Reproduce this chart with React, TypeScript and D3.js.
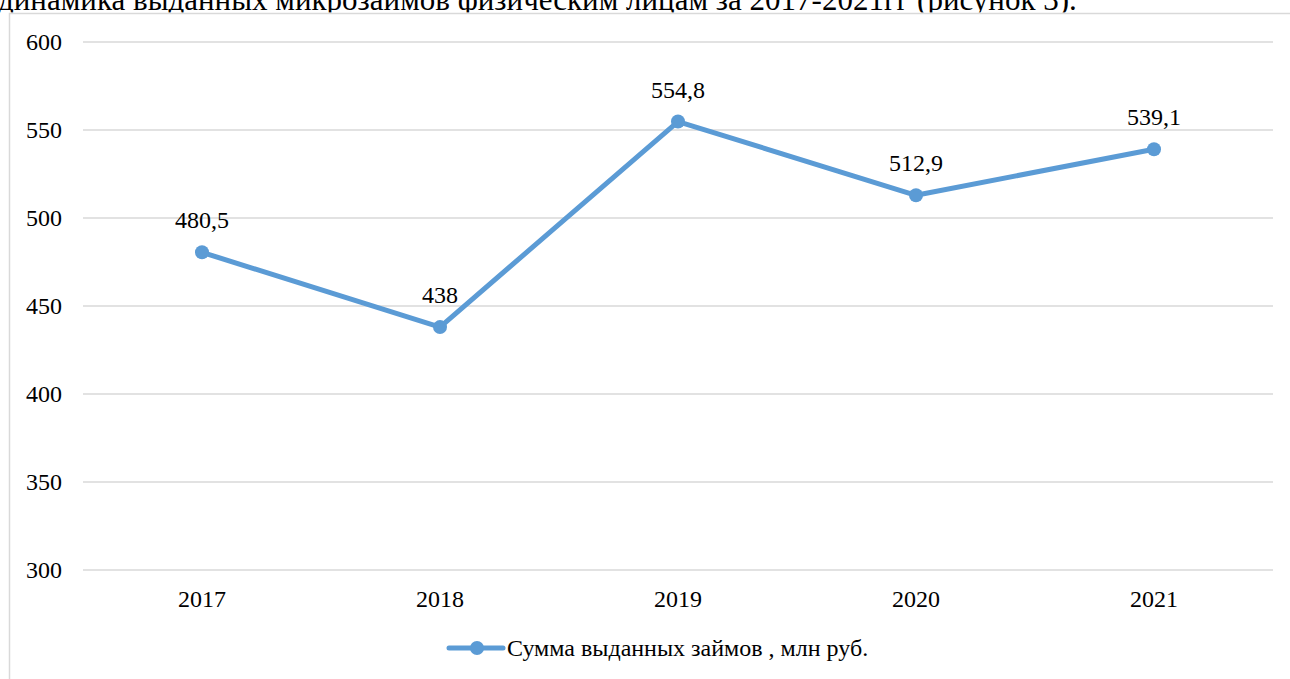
import React from "react";
import * as d3 from "d3";

const categories = ["2017", "2018", "2019", "2020", "2021"];
const values = [480.5, 438, 554.8, 512.9, 539.1];
const valueLabels = ["480,5", "438", "554,8", "512,9", "539,1"];
const yTicks = [300, 350, 400, 450, 500, 550, 600];
const seriesName = "Сумма выданных займов , млн руб.";
const headerText = "динамика выданных микрозаймов физическим лицам за 2017-2021гг (рисунок 3).";

export default function App() {
  const W = 1290, H = 679;
  const fs = 24;
  const x = d3.scaleBand().domain(categories).range([83, 1273]);
  const y = d3.scaleLinear().domain([300, 600]).range([570, 42]);
  const line = d3.line<number>()
    .x((_, i) => x(categories[i])! + x.bandwidth() / 2)
    .y((d) => y(d));
  const color = "#5B9BD5";
  return (
    <svg width={W} height={H} style={{ position: "absolute", left: 0, top: 0 }}>
      <text x={-2} y={10} fontSize={31}>{headerText}</text>
      <rect x={0} y={12.5} width={W} height={H} fill="#fff" />
      <path d={`M9.5,${H} V13.5 H${W}`} fill="none" stroke="#d9d9d9" strokeWidth={1.5} />
      {yTicks.map((t) => (
        <g key={t}>
          <line x1={83} x2={1273} y1={y(t)} y2={y(t)} stroke="#d9d9d9" strokeWidth={1.5} />
          <text x={62} y={y(t) + 8} textAnchor="end" fontSize={fs}>{String(t)}</text>
        </g>
      ))}
      {categories.map((c) => (
        <text key={c} x={x(c)! + x.bandwidth() / 2} y={607} textAnchor="middle" fontSize={fs}>{c}</text>
      ))}
      <path d={line(values)!} fill="none" stroke={color} strokeWidth={5} strokeLinejoin="round" strokeLinecap="round" />
      {values.map((v, i) => (
        <g key={i}>
          <circle cx={x(categories[i])! + x.bandwidth() / 2} cy={y(v)} r={7} fill={color} />
          <text x={x(categories[i])! + x.bandwidth() / 2} y={y(v) - 24} textAnchor="middle" fontSize={fs}>{valueLabels[i]}</text>
        </g>
      ))}
      <line x1={449} x2={503} y1={648} y2={648} stroke={color} strokeWidth={5} strokeLinecap="round" />
      <circle cx={477} cy={648} r={7} fill={color} />
      <text x={507} y={656} fontSize={fs}>{seriesName}</text>
    </svg>
  );
}
